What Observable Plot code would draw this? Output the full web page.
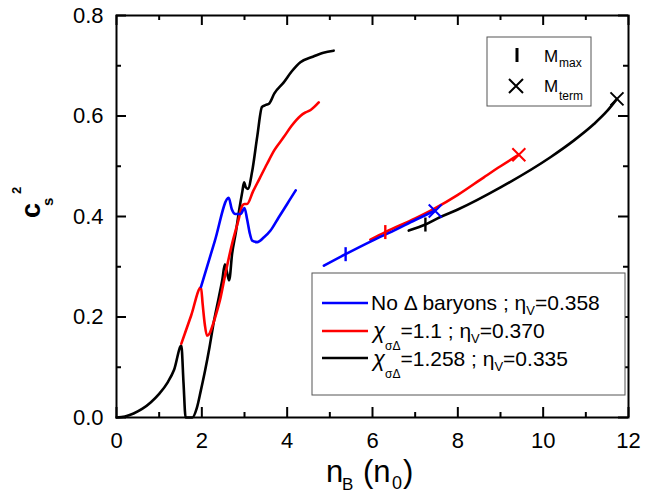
<!DOCTYPE html>
<html>
<head>
<meta charset="utf-8">
<script src="https://cdn.jsdelivr.net/npm/d3@7"></script>
<script src="https://cdn.jsdelivr.net/npm/@observablehq/plot@0.6"></script>
<style>
  html, body { margin: 0; padding: 0; background: #fff; }
  #chart { position: relative; width: 657px; height: 493px; }
</style>
</head>
<body>
<div id="chart"></div>
<script>
// ---------------- data ----------------
const xMajor = [0, 2, 4, 6, 8, 10, 12];
const xMinor = [1, 3, 5, 7, 9, 11];
const yMajor = [0.0, 0.2, 0.4, 0.6, 0.8];
const yMinor = [0.1, 0.3, 0.5, 0.7];

// black: x_sigmaDelta = 1.258
const blackLowX = [0, 0.2, 0.4, 0.6, 0.8, 1.0, 1.2, 1.35, 1.52, 1.57, 1.62, 1.78, 1.88, 1.98, 2.08, 2.18, 2.28, 2.40, 2.48, 2.54, 2.60, 2.64, 2.71, 2.80, 2.87, 2.95, 2.99, 3.03, 3.08, 3.18, 3.30, 3.41, 3.50, 3.58, 3.70, 3.92, 4.10, 4.31, 4.60, 4.85, 5.09];
const blackLowY = [0, 0.002, 0.008, 0.017, 0.03, 0.047, 0.07, 0.095, 0.143, 0.07, 0.0, 0.0, 0.018, 0.055, 0.095, 0.14, 0.19, 0.24, 0.274, 0.305, 0.285, 0.273, 0.326, 0.37, 0.41, 0.45, 0.468, 0.458, 0.455, 0.49, 0.56, 0.618, 0.622, 0.625, 0.645, 0.667, 0.688, 0.707, 0.718, 0.726, 0.730];
const blackHighX = [6.85, 7.24, 7.59, 8.0, 9.0, 10.17, 10.7, 11.19, 11.5, 11.73];
const blackHighY = [0.372, 0.384, 0.399, 0.414, 0.458, 0.518, 0.55, 0.584, 0.61, 0.634];

// red: x_sigmaDelta = 1.1
const redLowX = [1.52, 1.75, 1.98, 2.02, 2.07, 2.12, 2.18, 2.24, 2.35, 2.44, 2.55, 2.71, 2.85, 2.95, 3.0, 3.06, 3.2, 3.35, 3.53, 3.7, 3.92, 4.1, 4.31, 4.43, 4.55, 4.74];
const redLowY = [0.147, 0.203, 0.259, 0.225, 0.185, 0.163, 0.167, 0.180, 0.21, 0.239, 0.285, 0.346, 0.39, 0.422, 0.425, 0.425, 0.45, 0.475, 0.505, 0.532, 0.558, 0.58, 0.600, 0.607, 0.612, 0.627];
const redHighX = [5.95, 6.30, 7.0, 7.44, 8.0, 8.61, 9.0, 9.43];
const redHighY = [0.354, 0.369, 0.396, 0.415, 0.443, 0.478, 0.500, 0.523];

// blue: no Delta baryons
const blueLowX = [1.98, 2.3, 2.63, 2.70, 2.79, 2.91, 3.0, 3.06, 3.12, 3.18, 3.30, 3.45, 3.61, 3.8, 4.0, 4.20];
const blueLowY = [0.26, 0.35, 0.437, 0.415, 0.405, 0.405, 0.417, 0.395, 0.368, 0.352, 0.349, 0.358, 0.372, 0.398, 0.425, 0.452];
const blueHighX = [4.86, 5.37, 6.0, 6.5, 7.0, 7.47];
const blueHighY = [0.302, 0.325, 0.352, 0.372, 0.393, 0.412];

// markers: M_max (vertical bar) and M_term (cross), order: blue, red, black
const seriesColors = ["#0000ff", "#ff0000", "#000000"];
const maxX = [5.37, 6.30, 7.24];
const maxY = [0.325, 0.369, 0.384];
const termX = [7.47, 9.43, 11.73];
const termY = [0.411, 0.523, 0.634];

// ---------------- layout ----------------
const W = 657, H = 493, mL = 116, mR = 29, mT = 15, mB = 76;
const fw = W - mL - mR, fh = H - mT - mB;
const major = 10, minor = 5;

const pts = (xs, ys) => xs.map((x, i) => ({x, y: ys[i]}));
const curves = [
  {data: pts(blackLowX, blackLowY), c: "#000000"},
  {data: pts(blackHighX, blackHighY), c: "#000000"},
  {data: pts(redLowX, redLowY), c: "#ff0000"},
  {data: pts(redHighX, redHighY), c: "#ff0000"},
  {data: pts(blueLowX, blueLowY), c: "#0000ff"},
  {data: pts(blueHighX, blueHighY), c: "#0000ff"}
];

const symBar = {draw(ctx, size) { const s = Math.sqrt(size / Math.PI); ctx.moveTo(0, -s); ctx.lineTo(0, s); }};
const symX = {draw(ctx, size) { const s = Math.sqrt(size / Math.PI); ctx.moveTo(-s, -s); ctx.lineTo(s, s); ctx.moveTo(-s, s); ctx.lineTo(s, -s); }};

const marks = [];
for (const cv of curves) {
  marks.push(Plot.line(cv.data, {x: "x", y: "y", stroke: cv.c, strokeWidth: 2.6, curve: "monotone-x"}));
}
seriesColors.forEach((c, i) => {
  marks.push(Plot.dot([{x: maxX[i], y: maxY[i]}], {x: "x", y: "y", symbol: symBar, r: 7, fill: "none", stroke: c, strokeWidth: 2.4}));
  marks.push(Plot.dot([{x: termX[i], y: termY[i]}], {x: "x", y: "y", symbol: symX, r: 6.5, fill: "none", stroke: c, strokeWidth: 2}));
});
// inward ticks on all four sides
marks.push(
  Plot.ruleX(xMajor, {x: d => d, insetTop: fh - major, strokeWidth: 2}),
  Plot.ruleX(xMinor, {x: d => d, insetTop: fh - minor, strokeWidth: 2}),
  Plot.ruleX(xMajor, {x: d => d, insetBottom: fh - major, strokeWidth: 2}),
  Plot.ruleX(xMinor, {x: d => d, insetBottom: fh - minor, strokeWidth: 2}),
  Plot.ruleY(yMajor, {y: d => d, insetRight: fw - major, strokeWidth: 2}),
  Plot.ruleY(yMinor, {y: d => d, insetRight: fw - minor, strokeWidth: 2}),
  Plot.ruleY(yMajor, {y: d => d, insetLeft: fw - major, strokeWidth: 2}),
  Plot.ruleY(yMinor, {y: d => d, insetLeft: fw - minor, strokeWidth: 2}),
  Plot.frame({stroke: "#000", strokeWidth: 2})
);

const svg = Plot.plot({
  width: W, height: H,
  marginLeft: mL, marginRight: mR, marginTop: mT, marginBottom: mB,
  style: {fontFamily: "'Liberation Sans', Arial, sans-serif", fontSize: "22px", background: "#fff", color: "#000", overflow: "visible"},
  x: {domain: [0, 12], ticks: xMajor, tickSize: 0, tickPadding: 15, tickFormat: d => String(d), label: null},
  y: {domain: [0, 0.8], ticks: yMajor, tickSize: 0, tickPadding: 13, tickFormat: d3.format(".1f"), label: null},
  marks
});
document.getElementById("chart").append(svg);

// ---------------- titles & legends ----------------
const g = d3.select(svg).append("g")
  .attr("font-family", "'Liberation Sans', Arial, sans-serif")
  .attr("fill", "#000")
  .attr("text-anchor", "start")
  .style("font-variant", "normal");
function txt(parent, x, y, s, size, opts = {}) {
  const t = parent.append("text").attr("x", x).attr("y", y).attr("font-size", size).attr("text-anchor", "start").text(s);
  if (opts.bold) t.attr("font-weight", "bold");
  if (opts.italic) t.attr("font-style", "italic");
  if (opts.transform) t.attr("transform", opts.transform).attr("x", 0).attr("y", 0);
  return t;
}
// rich text row: pieces [text, fontSize, baselineShift, italic]
function rich(parent, x, y, pieces, width) {
  const t = parent.append("text").attr("x", x).attr("y", y).attr("text-anchor", "start");
  for (const [s, size, shift, italic] of pieces) {
    const sp = t.append("tspan").attr("y", y + shift).attr("font-size", size).text(s);
    if (italic) sp.attr("font-style", "italic");
  }
  const natural = t.node().getComputedTextLength();
  if (width && natural < width) t.attr("textLength", width).attr("lengthAdjust", "spacing");
  return t;
}
// y-axis title c_s^2
txt(g, 0, 0, "c", 27, {bold: true, transform: "translate(40,218) rotate(-90)"});
txt(g, 0, 0, "s", 15, {bold: true, transform: "translate(53,206) rotate(-90)"});
txt(g, 0, 0, "2", 13, {bold: true, transform: "translate(21,194) rotate(-90)"});
// x-axis title n_B (n_0)
txt(g, 326, 482, "n", 31);
txt(g, 342, 490, "B", 17);
txt(g, 363, 482, "(n", 31);
txt(g, 392, 489, "0", 18);
txt(g, 403, 482, ")", 31);

// legend 1: markers
const l1 = g.append("g");
l1.append("rect").attr("x", 487).attr("y", 37).attr("width", 104).attr("height", 69).attr("fill", "#fff").attr("stroke", "#555").attr("stroke-width", 1);
l1.append("path").attr("d", "M517,48V62").attr("stroke", "#000").attr("stroke-width", 3);
l1.append("path").attr("d", "M509,79L523,93M509,93L523,79").attr("stroke", "#000").attr("stroke-width", 2);
txt(l1, 544, 62, "M", 17);
txt(l1, 559, 67, "max", 12);
txt(l1, 544, 92, "M", 17);
txt(l1, 559, 100, "term", 12);

// legend 2: series
const l2 = g.append("g");
l2.append("rect").attr("x", 312).attr("y", 273).attr("width", 313).attr("height", 122).attr("fill", "#fff").attr("stroke", "#555").attr("stroke-width", 1);
const rows = [303, 331, 358];
rows.forEach((yy, i) => {
  l2.append("path").attr("d", `M322,${yy}H368`).attr("stroke", seriesColors[i]).attr("stroke-width", 2.6);
});
rich(l2, 371, 310, [["No \u0394 baryons ; \u03b7", 21, 0], ["V", 13, 5], ["=0.358", 21, 0]], 220);
rich(l2, 373, 338, [["\u03c7", 22, 0, true], ["\u03c3\u0394", 12, 12], ["=1.1 ; \u03b7", 21, 0], ["V", 13, 5], ["=0.370", 21, 0]], 163);
rich(l2, 373, 366, [["\u03c7", 22, 0, true], ["\u03c3\u0394", 12, 12], ["=1.258 ; \u03b7", 21, 0], ["V", 13, 5], ["=0.335", 21, 0]], 193);
</script>
</body>
</html>
